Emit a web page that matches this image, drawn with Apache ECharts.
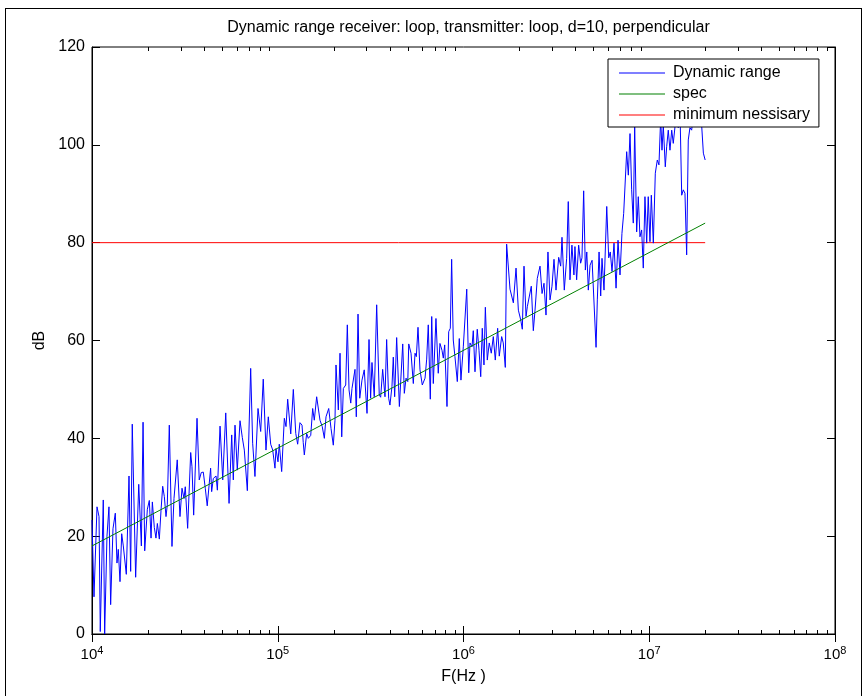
<!DOCTYPE html>
<html><head><meta charset="utf-8">
<script src="https://cdn.jsdelivr.net/npm/echarts@6/dist/echarts.min.js"></script>
<style>
html,body{margin:0;padding:0;background:#fff;}
#frame{position:absolute;left:5px;top:8px;width:857px;height:700px;border:1px solid #000;box-sizing:border-box;}
#chart{position:absolute;left:0;top:0;width:867px;height:696px;}
</style></head><body>
<div id="frame"></div>
<div id="chart"></div>
<script>
// ---- data ----
const titleText = 'Dynamic range receiver: loop, transmitter: loop, d=10, perpendicular';
const seriesNames = ['Dynamic range', 'spec', 'minimum nessisary'];
const yTicks = [0, 20, 40, 60, 80, 100, 120];
const minorTickFreqs = [
  2e4,3e4,4e4,5e4,6e4,7e4,8e4,9e4,
  2e5,3e5,4e5,5e5,6e5,7e5,8e5,9e5,
  2e6,3e6,4e6,5e6,6e6,7e6,8e6,9e6,
  2e7,3e7,4e7,5e7,6e7,7e7,8e7,9e7
];
const freqHz = [
  10000,10250,10640,10910,11080,11500,11700,12040,12340,12600,
  12970,13350,13630,13850,14150,14450,14740,15000,15300,15820,
  16150,16470,17180,17850,18440,18830,19220,19860,20350,20790,
  21130,21650,22100,22480,23040,23530,24020,24510,25030,25430,
  26070,26950,27630,28180,28770,29760,30520,31280,31780,32730,
  33990,34530,35260,36760,37790,38740,39730,40720,41720,43510,
  44080,44990,46540,47310,48910,50570,52480,54680,56510,57640,
  58870,60560,62640,64430,66070,68590,71500,73270,75390,78290,
  80940,83560,86420,88950,91630,93940,96620,97800,100300,101900,
  105000,108500,110800,113100,117500,121300,125000,128000,131700,135100,
  137200,139000,143100,146000,150500,154200,157300,162000,168800,173600,
  178200,181900,188100,193600,199100,203300,205900,211900,216400,221000,
  225500,232200,236900,242000,247200,251000,255200,260500,264800,270500,
  276300,284100,292200,302400,310000,316200,321600,330700,340900,351900,
  358100,367100,377900,385700,395500,401800,412000,418800,426000,436700,
  451600,470800,480200,490500,501200,507200,521800,536800,548300,557300,
  569000,583100,600000,620800,633500,646200,662600,674500,687800,710800,
  731300,746800,766000,778700,792000,815000,832400,849100,863400,880900,
  899300,926000,949200,968800,997500,1019000,1041000,1067000,1084000,1111000,
  1129000,1153000,1186000,1212000,1238000,1262000,1289000,1311000,1343000,1376000,
  1411000,1447000,1483000,1527000,1558000,1605000,1637000,1679000,1707000,1780000,
  1819000,1855000,1918000,1974000,2033000,2073000,2117000,2171000,2206000,2261000,
  2317000,2376000,2427000,2496000,2582000,2648000,2713000,2781000,2849000,2922000,
  2995000,3071000,3148000,3254000,3336000,3390000,3488000,3592000,3665000,3743000,
  3835000,3931000,3981000,4065000,4168000,4272000,4343000,4435000,4529000,4610000,
  4699000,4802000,4923000,5042000,5172000,5253000,5368000,5478000,5568000,5707000,
  5904000,6050000,6168000,6303000,6461000,6626000,6790000,6960000,7129000,7284000,
  7433000,7560000,7716000,7879000,8042000,8205000,8348000,8555000,8729000,8913000,
  9100000,9287000,9483000,9688000,9876000,10090000,10260000,10520000,10780000,11050000,
  11280000,11520000,11710000,11900000,12200000,12410000,12660000,12930000,13210000,13470000,
  13760000,14050000,14330000,14640000,14950000,15250000,15570000,15900000,16220000,16560000,
  16910000,17260000,18010000,18760000,19170000,19560000,19800000,20000000
];
const dynamicRangeDb = [
  23.3,7.6,26,24,0.5,27.4,0,20,26,6,
  21.5,24.7,14.5,17.3,10.7,20.5,18,18,12.2,32.3,
  12.8,42.9,11.6,30.6,18,43.3,17,25.5,27.3,19.6,
  27,21.8,19.6,22.6,19.4,25.3,30.2,28.1,24,26.4,
  42.7,17.9,27.7,27.3,35.6,24,29.8,27.7,30.1,21.6,
  37.1,34.2,24.3,44.1,31.5,33,33.1,29.8,26.2,33.9,
  29.1,31.8,32.3,29.4,42.5,31.5,45.2,26.7,40.7,31.5,
  42.7,33.5,43.6,40.2,37.6,29.3,54.3,39,32.2,46.1,
  41.4,52.1,37.6,44.4,38.8,37.6,33.9,37.9,35.2,38.8,
  33.2,44.1,42.4,48,40.9,50,41,38.8,43.2,42.7,
  39.1,36.6,41,40,40.6,46.1,43.7,48.5,43.7,42.4,
  40,44.4,46.1,42,38.6,43.7,55,45.8,57.4,40.3,
  50.2,50.9,63.2,49.9,47.2,50.2,49.9,54.1,44.4,65.4,
  48.2,51.9,54,45.1,60.2,48.2,55.5,48.5,67.3,48.9,
  48.4,54.1,48.5,60.2,48.2,46.8,50.6,56.6,48.5,60.6,
  46.5,59.3,49.2,52.3,51.6,59.3,57.4,51.2,57.4,56.7,
  62.7,54,50.9,52.3,56.2,63.2,48,64.9,51.2,64.5,
  53.3,59.4,58,56.4,59.1,46.5,61.8,62.5,76.6,60.1,
  56.7,51.6,60.4,51.9,58.7,58.4,70.5,53.4,59.5,58.7,
  62,53.6,62.3,58,52.6,62.5,55,66.8,56,59.5,
  57.4,60.8,56,62.5,56.8,60.8,59.5,54.5,79.7,70.5,
  70.3,67.7,74.8,66.2,64.2,62.3,75.2,64.9,66.9,67.3,
  71.1,62,66.2,72.7,75.2,69.6,71.7,65.2,78.1,68.3,
  71.1,76.6,70.3,77,75.2,81.1,70.3,76.8,88.4,72.4,
  79.5,73.4,79.2,72.4,79.5,75.8,76.9,90.6,74.4,78.1,
  70.3,75.4,76.4,76.5,58.6,68.3,78.1,69.1,76.8,70.3,
  87.4,76.9,78.1,74.1,79.9,70.7,80.5,73.4,81.9,86,
  86.1,98.6,93.8,102.3,90.8,84,103.7,82.2,89.4,81.2,
  82.6,74.8,89.4,79.9,89.4,80.2,89.7,79.9,94.2,96.9,
  95.9,105.4,98.9,104,95.5,99.6,103,98.9,103,100.3,
  103.7,105,103.5,107,89.7,90.8,90.1,77.5,101,103.5,
  103,105.8,103.7,105.8,103.7,98.3,98,96.9
];
const specFreqHz = [1e4, 2e7];
const specDb = [18, 84];
const minFreqHz = [1e4, 2e7];
const minDb = [80, 80];

// ---- chart ----
const FONT = '"Liberation Sans", Arial, Helvetica, sans-serif';
const chart = echarts.init(document.getElementById('chart'), null, {renderer: 'canvas'});

function pairs(xs, ys) { return xs.map((x, i) => [x, ys[i]]); }

const xLabel = {
  color: '#000', margin: 11,
  formatter: v => '{b|10}{s|' + Math.round(Math.log10(v)) + '}',
  rich: {
    b: {fontSize: 15, fontFamily: FONT, color: '#000'},
    s: {fontSize: 11, fontFamily: FONT, color: '#000', padding: [0, 0, 9, 0]}
  }
};

const option = {
  animation: false,
  backgroundColor: 'transparent',
  title: {
    text: titleText, left: 463.5, top: 15, textAlign: 'center',
    textStyle: {fontSize: 16, fontWeight: 'normal', fontFamily: FONT, color: '#000'}
  },
  legend: {
    data: seriesNames, orient: 'vertical', left: 608, top: 59,
    padding: [6, 9, 4, 11], itemGap: 5, itemWidth: 46, itemHeight: 1, icon: 'rect',
    backgroundColor: '#fff', borderColor: '#000', borderWidth: 1,
    textStyle: {fontSize: 16, fontFamily: FONT, color: '#000', lineHeight: 16, padding: [0, 0, 0, 3]}
  },
  grid: {left: 92, right: 32, top: 47, bottom: 62, show: true, borderColor: '#000', borderWidth: 1, backgroundColor: 'transparent'},
  xAxis: [
    {
      type: 'log', logBase: 10, min: 1e4, max: 1e8, position: 'bottom',
      axisLine: {show: true, lineStyle: {color: '#000', width: 1}},
      axisTick: {show: true, inside: true, length: 8, lineStyle: {color: '#000'}},
      splitLine: {show: false},
      axisLabel: xLabel,
      name: 'F(Hz )', nameLocation: 'middle', nameGap: 35,
      nameTextStyle: {fontSize: 16, fontFamily: FONT, color: '#000'}
    },
    {
      type: 'log', logBase: 10, min: 1e4, max: 1e8, position: 'top',
      axisLine: {show: true, lineStyle: {color: '#000', width: 1}},
      axisTick: {show: true, inside: true, length: 8, lineStyle: {color: '#000'}},
      splitLine: {show: false}, axisLabel: {show: false}
    }
  ],
  yAxis: [
    {
      type: 'value', min: yTicks[0], max: yTicks[yTicks.length - 1], interval: 20, position: 'left',
      axisLine: {show: true, lineStyle: {color: '#000', width: 1}},
      axisTick: {show: true, inside: true, length: 8, lineStyle: {color: '#000'}},
      splitLine: {show: false},
      axisLabel: {color: '#000', fontSize: 16, fontFamily: FONT, margin: 7},
      name: 'dB', nameLocation: 'middle', nameGap: 42, nameRotate: 90,
      nameTextStyle: {fontSize: 16, fontFamily: FONT, color: '#000'}
    },
    {
      type: 'value', min: yTicks[0], max: yTicks[yTicks.length - 1], interval: 20, position: 'right',
      axisLine: {show: true, lineStyle: {color: '#000', width: 1}},
      axisTick: {show: true, inside: true, length: 8, lineStyle: {color: '#000'}},
      splitLine: {show: false}, axisLabel: {show: false}
    }
  ],
  series: [
    {
      name: seriesNames[0], type: 'line', xAxisIndex: 0, yAxisIndex: 0,
      data: pairs(freqHz, dynamicRangeDb), symbol: 'none', color: '#0000ff',
      lineStyle: {width: 1, color: '#0000ff'}, z: 3
    },
    {
      name: seriesNames[1], type: 'line', xAxisIndex: 0, yAxisIndex: 0,
      data: pairs(specFreqHz, specDb), symbol: 'none', color: '#008000',
      lineStyle: {width: 1, color: '#008000'}, z: 4
    },
    {
      name: seriesNames[2], type: 'line', xAxisIndex: 0, yAxisIndex: 0,
      data: pairs(minFreqHz, minDb), symbol: 'none', color: '#ff0000',
      lineStyle: {width: 1, color: '#ff0000'}, z: 2
    },
    {
      name: 'minorTicks', type: 'custom', xAxisIndex: 0, yAxisIndex: 0, silent: true,
      data: minorTickFreqs.map(f => [f, 0]),
      renderItem: function (params, api) {
        const cs = params.coordSys;
        const x = Math.round(api.coord([api.value(0), 0])[0]) + 0.5;
        const top = cs.y, bot = cs.y + cs.height;
        return {type: 'group', children: [
          {type: 'line', shape: {x1: x, y1: bot, x2: x, y2: bot - 4}, style: {stroke: '#000', lineWidth: 1}},
          {type: 'line', shape: {x1: x, y1: top, x2: x, y2: top + 4}, style: {stroke: '#000', lineWidth: 1}}
        ]};
      }
    }
  ]
};
chart.setOption(option);
</script>
</body></html>
